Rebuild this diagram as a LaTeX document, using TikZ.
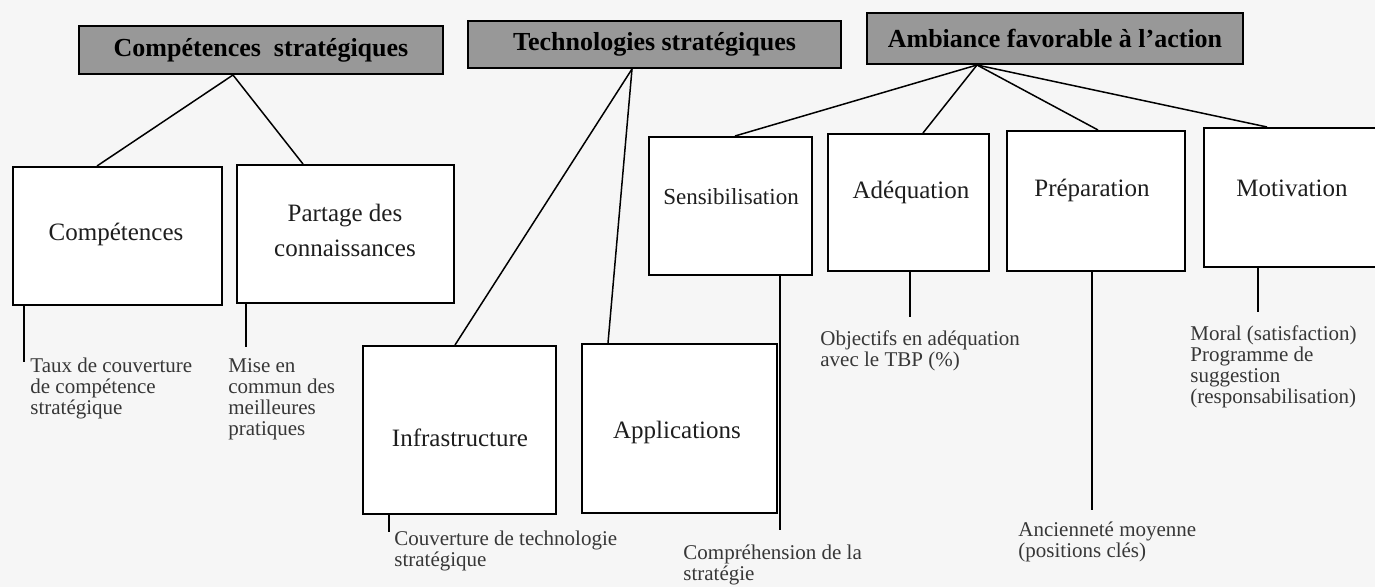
\documentclass[tikz,border=0pt]{standalone}
\usepackage{fontspec}
\setmainfont{Liberation Serif}
\usetikzlibrary{calc}
\definecolor{headgray}{RGB}{152,152,152}
\definecolor{paper}{RGB}{246,246,246}
\definecolor{ink}{RGB}{30,30,30}
\definecolor{notegray}{RGB}{55,55,55}
\begin{document}
\begin{tikzpicture}[x=0.5pt,y=-0.5pt,
  header/.style={draw=black, line width=1pt, fill=headgray, inner sep=0pt, anchor=north west,
    font=\fontsize{13}{15}\selectfont\bfseries, text=black},
  box/.style={draw=black, line width=1pt, fill=white, inner sep=0pt, anchor=north west},
  boxlabel/.style={inner sep=0pt, align=center, font=\fontsize{12.5}{17.5}\selectfont, text=ink},
  note/.style={inner sep=0pt, anchor=north west, align=left, font=\fontsize{10.5}{10.5}\selectfont, text=notegray},
  link/.style={line width=0.75pt, draw=black},
  stub/.style={line width=1pt, draw=black},
]
\useasboundingbox (0,0) rectangle (1375,587);
\clip (0,0) rectangle (1375,587);
\fill[paper] (0,0) rectangle (1375,587);

% category headers
\node[header, minimum width=182pt, minimum height=24pt] (h1) at (78,25) {Compétences\ \ stratégiques};
\node[header, minimum width=186.5pt, minimum height=23.5pt] (h2) at (467,20) {Technologies stratégiques};
\node[header, minimum width=188pt, minimum height=25.5pt] (h3) at (866,12) {Ambiance favorable à l’action};

% sub-category boxes
\node[box, minimum width=104.5pt, minimum height=69pt] (comp) at (12,166) {};
\node[box, minimum width=108.5pt, minimum height=69pt] (part) at (236,164) {};
\node[box, minimum width=96.5pt, minimum height=84pt] (infra) at (362,345) {};
\node[box, minimum width=97.5pt, minimum height=84.5pt] (appl) at (581,343) {};
\node[box, minimum width=81.5pt, minimum height=69pt] (sens) at (648,136) {};
\node[box, minimum width=80.5pt, minimum height=68.5pt] (adeq) at (827,133) {};
\node[box, minimum width=89pt, minimum height=70pt] (prep) at (1006,130) {};
\node[box, minimum width=95pt, minimum height=69.5pt] (motiv) at (1203,127) {};

% box titles
\node[boxlabel] (compT) at (116,234) {Compétences};
\node[boxlabel] (partT) at (345,230) {Partage des\\connaissances};
\node[boxlabel] (infraT) at (460,438) {Infrastructure};
\node[boxlabel] (applT) at (677,432) {Applications};
\node[boxlabel, font=\fontsize{11.5}{14}\selectfont] (sensT) at (731,197) {Sensibilisation};
\node[boxlabel] (adeqT) at (911,192) {Adéquation};
\node[boxlabel] (prepT) at (1092,190) {Préparation};
\node[boxlabel] (motivT) at (1292,188) {Motivation};

% tree connectors
\draw[link] ($(h1.south west)+(155,0)$) -- ($(comp.north west)+(85,0)$);
\draw[link] ($(h1.south west)+(155,0)$) -- ($(part.north west)+(67,0)$);
\draw[link] ($(h2.south west)+(165,0)$) -- ($(infra.north west)+(93,0)$);
\draw[link] ($(h2.south west)+(165,0)$) -- ($(appl.north west)+(27,0)$);
\draw[link] ($(h3.south west)+(111,0)$) -- ($(sens.north west)+(87,0)$);
\draw[link] ($(h3.south west)+(111,0)$) -- ($(adeq.north west)+(96,0)$);
\draw[link] ($(h3.south west)+(111,0)$) -- ($(prep.north west)+(92,0)$);
\draw[link] ($(h3.south west)+(111,0)$) -- ($(motiv.north west)+(64,0)$);

% indicators
\node[note] (taux) at (30,358) {Taux de couverture\\de compétence\\stratégique};
\node[note] (mise) at (228,358) {Mise en\\commun des\\meilleures\\pratiques};
\node[note] (couv) at (394,531) {Couverture de technologie\\stratégique};
\node[note] (compr) at (683,544) {Compréhension de la\\stratégie};
\node[note] (obj) at (820,330) {Objectifs en adéquation\\avec le TBP (\%)};
\node[note] (anc) at (1018,521) {Ancienneté moyenne\\(positions clés)};
\node[note] (moral) at (1190,325) {Moral (satisfaction)\\Programme de\\suggestion\\(responsabilisation)};

% indicator leaders
\coordinate (compE) at (24,362);
\coordinate (partE) at (246,347);
\coordinate (infraE) at (389,532);
\coordinate (sensE) at (780,530);
\coordinate (adeqE) at (910,317);
\coordinate (prepE) at (1092,510);
\coordinate (motivE) at (1258,312);
\draw[stub] (compE |- comp.south) -- (compE);
\draw[stub] (partE |- part.south) -- (partE);
\draw[stub] (infraE |- infra.south) -- (infraE);
\draw[stub] (sensE |- sens.south) -- (sensE);
\draw[stub] (adeqE |- adeq.south) -- (adeqE);
\draw[stub] (prepE |- prep.south) -- (prepE);
\draw[stub] (motivE |- motiv.south) -- (motivE);
\end{tikzpicture}
\end{document}
